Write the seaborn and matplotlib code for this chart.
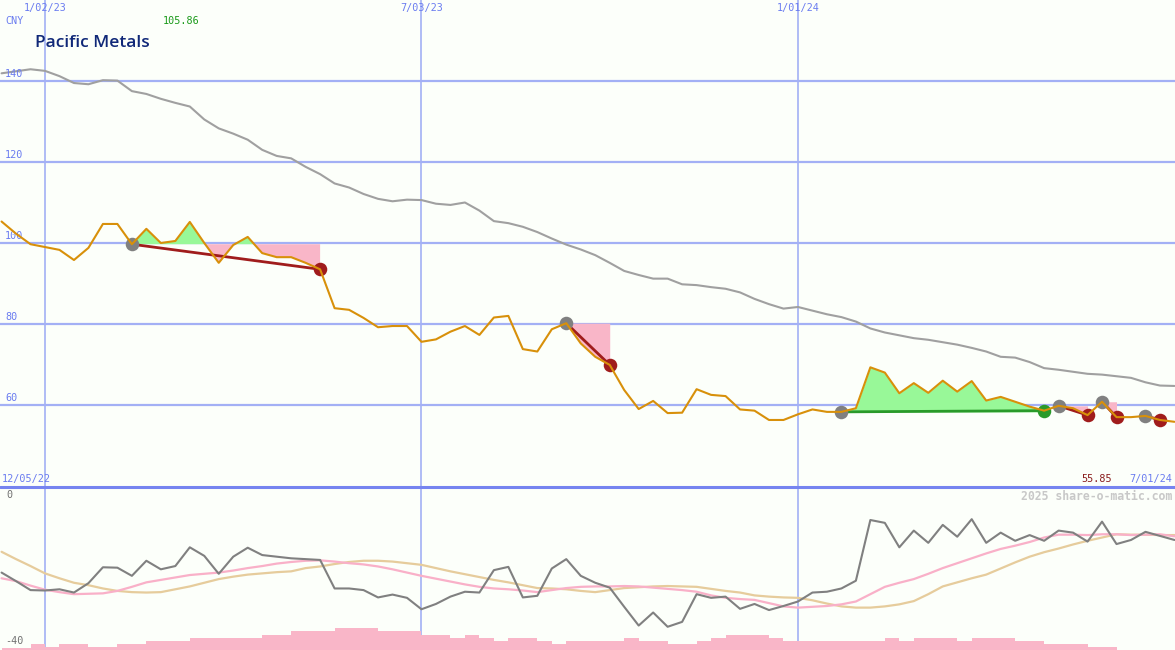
import numpy as np
import pandas as pd
import matplotlib
matplotlib.use("Agg")
import matplotlib.pyplot as plt
import seaborn as sns

# weekly closes, week 1 = first visible week (weeks counted from 12/05/22)
price = [105.3, 102.3, 99.7, 99.0, 98.3, 95.8, 98.8, 104.7, 104.7, 99.7,
         103.5, 100.0, 100.5, 105.2, 100.0, 95.1, 99.5, 101.5, 97.5, 96.5,
         96.5, 95.1, 93.5, 83.9, 83.5, 81.5, 79.2, 79.5, 79.5, 75.6,
         76.2, 78.1, 79.5, 77.3, 81.6, 82.0, 73.8, 73.2, 78.7, 80.2,
         75.2, 71.9, 69.9, 63.7, 59.0, 61.0, 58.0, 58.1, 63.9, 62.5,
         62.2, 58.9, 58.6, 56.3, 56.3, 57.7, 58.9, 58.3, 58.3, 59.2,
         69.3, 68.0, 62.9, 65.4, 63.0, 66.0, 63.3, 65.9, 61.1, 62.0,
         60.8, 59.6, 58.6, 59.8, 59.2, 57.5, 60.8, 57.0, 57.0, 57.3,
         56.3, 55.85]
moving_avg = [141.9, 142.4, 142.9, 142.5, 141.2, 139.5, 139.2, 140.2, 140.1, 137.5,
              136.8, 135.6, 134.6, 133.7, 130.5, 128.3, 127.0, 125.5, 123.0, 121.5,
              120.9, 118.8, 117.0, 114.7, 113.7, 112.1, 110.9, 110.3, 110.7, 110.6,
              109.7, 109.4, 110.0, 108.0, 105.4, 104.9, 104.0, 102.7, 101.1, 99.6,
              98.4, 97.0, 95.1, 93.1, 92.1, 91.2, 91.2, 89.8, 89.6, 89.1,
              88.7, 87.8, 86.2, 84.9, 83.8, 84.2, 83.3, 82.4, 81.7, 80.6,
              78.9, 77.9, 77.2, 76.5, 76.1, 75.5, 74.9, 74.1, 73.2, 71.9,
              71.7, 70.6, 69.1, 68.7, 68.2, 67.7, 67.5, 67.1, 66.7, 65.6,
              64.8, 64.7]
rel_strength = [-21.0, -23.1, -25.3, -25.4, -25.1, -25.9, -23.6, -19.7, -19.8, -21.8,
                -18.1, -20.2, -19.4, -14.8, -16.9, -21.3, -17.1, -14.9, -16.7, -17.1,
                -17.5, -17.7, -17.9, -24.9, -24.9, -25.3, -27.1, -26.4, -27.2, -30.0,
                -28.7, -26.9, -25.7, -25.9, -20.4, -19.6, -27.1, -26.7, -20.0, -17.7,
                -21.8, -23.5, -24.7, -29.4, -34.0, -30.8, -34.3, -33.1, -26.3, -27.2,
                -26.9, -29.9, -28.7, -30.2, -29.2, -28.1, -25.9, -25.7, -24.9, -23.0,
                -8.1, -8.8, -14.8, -10.7, -13.7, -9.3, -12.2, -7.9, -13.7, -11.2,
                -13.2, -11.8, -13.2, -10.7, -11.2, -13.4, -8.5, -14.0, -13.0, -11.0,
                -12.0, -13.0]
rs_fast = [-22.4, -23.1, -24.2, -25.2, -25.8, -26.3, -26.2, -26.1, -25.5, -24.5,
           -23.4, -22.8, -22.2, -21.6, -21.3, -21.0, -20.5, -19.9, -19.4, -18.8,
           -18.4, -18.1, -18.0, -18.3, -18.7, -19.0, -19.5, -20.2, -21.0, -21.8,
           -22.5, -23.2, -23.9, -24.5, -24.9, -25.1, -25.4, -25.8, -25.3, -24.8,
           -24.5, -24.4, -24.4, -24.3, -24.4, -24.7, -25.0, -25.3, -25.7, -26.6,
           -27.2, -27.5, -27.7, -28.5, -29.3, -29.6, -29.4, -29.2, -28.8, -28.1,
           -26.3, -24.5, -23.5, -22.6, -21.3, -19.9, -18.7, -17.5, -16.3, -15.2,
           -14.4, -13.5, -12.4, -11.7, -11.7, -11.8, -11.6, -11.6, -11.8, -11.7,
           -11.6, -12.1]
rs_slow = [-15.9, -17.7, -19.4, -21.2, -22.4, -23.5, -24.1, -24.9, -25.5, -25.8,
           -25.9, -25.8, -25.1, -24.4, -23.5, -22.6, -22.0, -21.5, -21.2, -20.9,
           -20.7, -19.9, -19.5, -18.9, -18.4, -18.1, -18.1, -18.3, -18.7, -19.1,
           -19.9, -20.7, -21.4, -22.1, -22.8, -23.4, -24.1, -24.8, -24.9, -25.1,
           -25.5, -25.8, -25.3, -24.8, -24.6, -24.4, -24.3, -24.4, -24.5, -25.0,
           -25.5, -25.9, -26.6, -26.9, -27.1, -27.2, -27.8, -28.6, -29.3, -29.6,
           -29.6, -29.3, -28.8, -28.0, -26.3, -24.4, -23.4, -22.4, -21.5, -20.0,
           -18.5, -17.1, -16.0, -15.1, -14.1, -13.2, -12.4, -11.6, -11.7, -11.7,
           -11.8, -11.8]
volume_bars = [0.4, 0.4, 1.5, 0.7, 1.5, 1.5, 0.7, 0.7, 1.5, 1.5,
               2.2, 2.2, 2.2, 2.9, 2.9, 2.9, 2.9, 2.9, 3.7, 3.7,
               4.7, 4.7, 4.7, 5.4, 5.4, 5.4, 4.7, 4.7, 4.7, 3.7,
               3.7, 2.9, 3.7, 2.9, 2.2, 2.9, 2.9, 2.2, 1.5, 2.2,
               2.2, 2.2, 2.2, 2.9, 2.2, 2.2, 1.5, 1.5, 2.2, 2.9,
               3.7, 3.7, 3.7, 2.9, 2.2, 2.2, 2.2, 2.2, 2.2, 2.2,
               2.2, 2.9, 2.2, 2.9, 2.9, 2.9, 2.2, 2.9, 2.9, 2.9,
               2.2, 2.2, 1.5, 1.5, 1.5, 0.7, 0.7, 0.0, 0.0, 0.0,
               0.0, 0.0]
signal_start = [10, 40, 59, 74, 77, 80]
signal_end = [23, 43, 73, 76, 78, 81]
date_weeks = [4, 30, 56]
date_labels = ["1/02/23", "7/03/23", "1/01/24"]
price_ticks = [60, 80, 100, 120, 140]

weeks = np.arange(1, len(price) + 1)
df = pd.DataFrame({"week": weeks, "price": price, "ma": moving_avg,
                   "rs": rel_strength, "rs_fast": rs_fast, "rs_slow": rs_slow,
                   "vol": volume_bars})

W, H = 1175, 650
px_week = 14.48
x0 = 4 - 45 / px_week
xlim = (x0, x0 + W / px_week)
bg = "#fcfffa"
grid_c = "#a3b0f5"
sns.set_style("white")
fig = plt.figure(figsize=(W / 100, H / 100), dpi=100, facecolor=bg)
split = 163 / H
ax = fig.add_axes([0, split, 1, 1 - split], facecolor=bg)
ax2 = fig.add_axes([0, 0, 1, split], facecolor=bg)

# top panel
for a in (ax, ax2):
    for w in date_weeks:
        a.axvline(w, color=grid_c, lw=1.2, zorder=0)
    a.axis("off")
for v in price_ticks:
    ax.axhline(v, color=grid_c, lw=1.6, zorder=0)
    ax.text(x0 + 5 / px_week, v + 0.5, str(v), color="#6a7cf0", fontsize=7.3,
            family="DejaVu Sans Mono", va="bottom", ha="left")
ax.set_ylim(39.75, 160)

sns.lineplot(data=df, x="week", y="ma", ax=ax, color="#a0a0a0", lw=1.5, zorder=2)

p = np.array(price)
for s, e in zip(signal_start, signal_end):
    seg = slice(s - 1, e)
    level = p[s - 1]
    xs = weeks[seg]
    ys = p[seg]
    gain = p[e - 1] > level
    ax.fill_between(xs, ys, level, where=ys >= level, interpolate=True,
                    color="#98f898", lw=0, zorder=1)
    ax.fill_between(xs, ys, level, where=ys <= level, interpolate=True,
                    color="#f9b6c8", lw=0, zorder=1)
    lc = "#2a9a2a" if gain else "#a01c1c"
    ax.plot([s, e], [level, p[e - 1]], color=lc, lw=2.0, zorder=3)
    ax.scatter([s], [level], s=95, color="#808080", zorder=4, lw=0)
    ax.scatter([e], [p[e - 1]], s=95, color=lc, zorder=4, lw=0)

sns.lineplot(data=df, x="week", y="price", ax=ax, color="#d8900a", lw=1.5, zorder=5)

# bottom panel
ax2.set_ylim(-40, 0)
ax2.fill_between(weeks, -40, -40 + df["vol"], step="post", color="#f9b6c8", lw=0, zorder=1)
sns.lineplot(data=df, x="week", y="rs_slow", ax=ax2, color="#e6cc9c", lw=1.6, zorder=2)
sns.lineplot(data=df, x="week", y="rs_fast", ax=ax2, color="#f9b0c8", lw=1.6, zorder=2)
sns.lineplot(data=df, x="week", y="rs", ax=ax2, color="#808080", lw=1.5, zorder=3)
for a in (ax, ax2):
    a.set_xlim(*xlim)

# separator
fig.add_artist(plt.Line2D([0, 1], [split, split], color="#7684f0", lw=2.2))


def ftext(x, y, s, **kw):
    fig.text(x / W, 1 - y / H, s, **kw)


mono = dict(family="DejaVu Sans Mono", fontsize=7.3, va="center")
for w, lab in zip(date_weeks, date_labels):
    ftext(45 + (w - 4) * px_week, 8, lab, color="#6a7cf0", ha="center", **mono)
ftext(5, 21, "CNY", color="#6a7cf0", ha="left", **mono)
ftext(163, 21, "105.86", color="#1a9a1a", ha="left", **mono)
ftext(35, 43, "Pacific Metals", color="#102878", ha="left", va="center",
      family="Open Sans", fontsize=12.5, weight="semibold")
ftext(2, 479, "12/05/22", color="#6a7cf0", ha="left", **mono)
ftext(1112, 479, "55.85", color="#8a1c1c", ha="right", **mono)
ftext(1172, 479, "7/01/24", color="#6a7cf0", ha="right", **mono)
ftext(1172, 496, "2025 share-o-matic.com", color="#c8c8c8", ha="right",
      family="DejaVu Sans Mono", fontsize=8.3, weight="bold", va="center")
ftext(6, 495, "0", color="#707070", ha="left", **mono)
ftext(5, 641, "-40", color="#707070", ha="left", **mono)

fig.savefig("out.png", dpi=100, facecolor=bg)
